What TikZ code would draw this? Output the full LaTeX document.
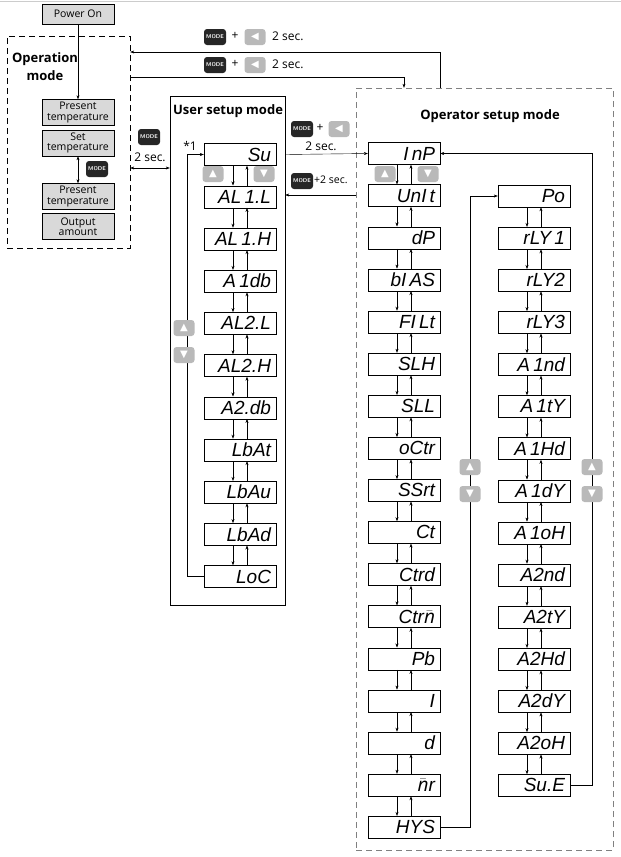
\documentclass[tikz,border=0pt]{standalone}
\usepackage{fontspec}
\setmainfont{Open Sans}
\newfontfamily\segfont{Liberation Sans}
\newfontfamily\symfont{DejaVu Sans}
\usetikzlibrary{arrows.meta,calc}
\begin{document}
\begin{tikzpicture}[x=1pt,y=-1pt,>={Stealth[length=4pt,width=3pt]},
 dsh/.style={dash pattern=on 6pt off 4pt},
 gbox/.style={draw,fill=gray!30,minimum width=72,minimum height=26,inner sep=0,align=center,font=\fontsize{10.5}{10.5}\selectfont},
 disp/.style={draw,minimum width=72,minimum height=22,inner sep=0,text width=62,align=right,font=\segfont\itshape\fontsize{19}{19}\selectfont},
 modebtn/.style={fill=black!85,rounded corners=3pt,minimum width=22,minimum height=16,inner sep=0,text=white,font=\sffamily\bfseries\fontsize{5.5}{6}\selectfont},
 graybtn/.style={fill=gray!55,rounded corners=3pt,minimum width=21,minimum height=16,inner sep=0,text=white,font=\symfont\fontsize{10}{10}\selectfont},
 lbl/.style={font=\fontsize{12}{12}\selectfont,inner sep=1},
 title/.style={font=\bfseries\fontsize{13}{18}\selectfont,align=center}]
\useasboundingbox (0,0) rectangle (621,857);
\draw[gray!40] (0,1) -- (621,1);
% Operation mode
\node[draw,dsh,minimum width=123,minimum height=212,inner sep=0] (opm) at (68.5,142) {};
\node[title] (opt) at (45,67) {Operation\\mode};
\node[gbox,minimum height=20] (pwr) at (78,14) {Power On};
\node[gbox] (g1) at (78,112.5) {Present\\temperature};
\node[gbox] (g2) at (78,143) {Set\\temperature};
\node[gbox] (g3) at (78,196.5) {Present\\temperature};
\node[gbox] (g4) at (78,226.5) {Output\\amount};
\draw[->] (pwr) -- (g1);
\draw[<->] (g2) -- (g3);
\node[modebtn] (mb0) at (97,169) {MODE};
% User setup
\node[draw,minimum width=115,minimum height=509,inner sep=0] (usm) at (227.5,350.5) {};
\node[title] (ust) at (228,111) {User setup mode};
\foreach \t [count=\i] in {Su,AL\,1.L,AL\,1.H,A\,1db,AL2.L,AL2.H,A2.db,LbAt,LbAu,LbAd,LoC}
  \node[disp] (U\i) at (240,{154.5+42.2*(\i-1)}) {\t};
\foreach \i [evaluate=\i as \j using int(\i+1)] in {1,...,10}{
  \draw[->] ([xshift=-7]U\i.south) -- ([xshift=-7]U\j.north);
  \draw[->] ([xshift=7]U\j.north) -- ([xshift=7]U\i.south);}
\node[graybtn] (ub1) at (213,174) {▲};
\node[graybtn] (ub2) at (264,174) {▼};
\coordinate (ul) at (187,0);
\draw[->] (U11.west) -- (U11.west -| ul) -- (U1.west -| ul) -- (U1.west);
\node[graybtn] (ub3) at (184,328) {▲};
\node[graybtn] (ub4) at (184,355) {▼};
\node[font=\fontsize{12}{12}\selectfont] (star) at (190,146) {*1};
% Operator setup
\node[draw,dsh,gray,minimum width=257,minimum height=762,inner sep=0] (osm) at (484.5,469) {};
\node[title] (ost) at (490,116) {Operator setup mode};
\foreach \t [count=\i] in {I\,nP,UnI\,t,dP,bI\,AS,FI\,Lt,SLH,SLL,oCtr,SSrt,Ct,Ctrd,Ctr$\bar{\mathit{n}}$,Pb,I,d,$\bar{\mathit{n}}$r,HYS}
  \node[disp] (L\i) at (404,{153.5+42.1*(\i-1)}) {\t};
\foreach \i [evaluate=\i as \j using int(\i+1)] in {1,...,16}{
  \draw[->] ([xshift=-7]L\i.south) -- ([xshift=-7]L\j.north);
  \draw[->] ([xshift=7]L\j.north) -- ([xshift=7]L\i.south);}
\node[graybtn] (lb1) at (385,174) {▲};
\node[graybtn] (lb2) at (428,174) {▼};
\foreach \t [count=\i] in {Po,rLY\,1,rLY2,rLY3,A\,1nd,A\,1tY,A\,1Hd,A\,1dY,A\,1oH,A2nd,A2tY,A2Hd,A2dY,A2oH,Su.E}
  \node[disp] (R\i) at (534,{196+42.1*(\i-1)}) {\t};
\foreach \i [evaluate=\i as \j using int(\i+1)] in {1,...,14}{
  \draw[->] ([xshift=-7]R\i.south) -- ([xshift=-7]R\j.north);
  \draw[->] ([xshift=7]R\j.north) -- ([xshift=7]R\i.south);}
\coordinate (ml) at (470,0);
\draw[->] (L17.east) -- (L17.east -| ml) -- (R1.west -| ml) -- (R1.west);
\node[graybtn] (mb1) at (470,467) {▲};
\node[graybtn] (mb2) at (470,494) {▼};
\coordinate (rl) at (592,0);
\draw[->] (R15.east) -- (R15.east -| rl) -- (L1.east -| rl) -- (L1.east);
\node[graybtn] (rb1) at (592,467) {▲};
\node[graybtn] (rb2) at (592,494) {▼};
% Top connections
\coordinate (t1) at (440,52);
\draw[->] (t1 |- osm.north) -- (t1) -- (t1 -| opm.east);
\coordinate (t2) at (404,77);
\draw[->] (t2 -| opm.east) -- (t2) -- (t2 |- osm.north);
\node[modebtn] (k1) at (215,37) {MODE};
\node[lbl] (p1) at (235,36) {+};
\node[graybtn] (k2) at (255,37) {◀};
\node[lbl,anchor=west] (s1) at (271,36) {2 sec.};
\node[modebtn] (k3) at (215,65) {MODE};
\node[lbl] (p2) at (235,64) {+};
\node[graybtn] (k4) at (255,65) {◀};
\node[lbl,anchor=west] (s2) at (271,64) {2 sec.};
% between operation and user
\coordinate (a1) at (0,168);
\draw[<->] (a1 -| opm.east) -- (a1 -| usm.west);
\node[modebtn] (k5) at (149,137) {MODE};
\node[lbl] (s3) at (150,157) {2 sec.};
% between user and operator
\draw[->] (U1.west -| usm.east) -- (L1.west);
\node[modebtn] (k6) at (302,129) {MODE};
\node[lbl] (p3) at (320,128) {+};
\node[graybtn] (k7) at (339,129) {◀};
\node[lbl] (s4) at (321,146) {2 sec.};
\coordinate (a2) at (0,195);
\draw[->] (a2 -| osm.west) -- (a2 -| usm.east);
\node[modebtn] (k8) at (302,181) {MODE};
\node[lbl,anchor=west,font=\fontsize{10.5}{11}\selectfont] (s5) at (313,180) {+2 sec.};
\end{tikzpicture}
\end{document}
